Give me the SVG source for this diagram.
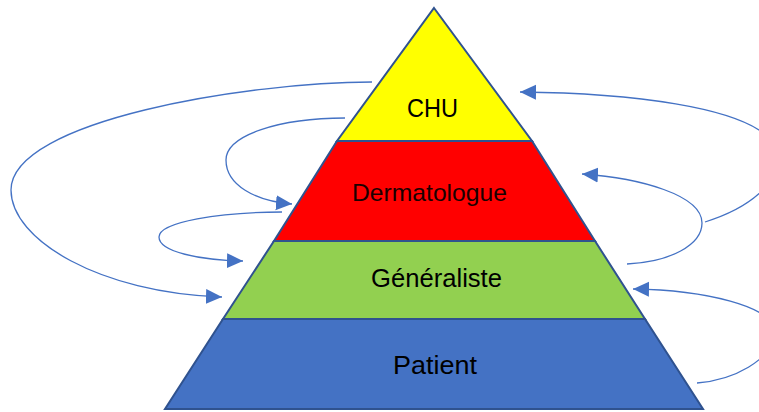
<svg xmlns="http://www.w3.org/2000/svg" width="759" height="412" viewBox="0 0 759 412">
<style>
.tier{stroke:#2F528F;stroke-width:2;stroke-linejoin:miter}
.lbl{font-family:"Liberation Sans",Arial,sans-serif;font-size:25px;fill:#000;text-anchor:middle}
.conn{fill:none;stroke:#4472C4;stroke-width:1.3;marker-end:url(#arr)}
</style>
<defs>
<marker id="arr" markerUnits="userSpaceOnUse" markerWidth="18" markerHeight="16" refX="16" refY="7.5" orient="auto">
<path d="M0,0 L16,7.5 L0,15 z" fill="#4472C4"/>
</marker>
</defs>
<rect width="759" height="412" fill="#fff"/>
<g id="patient">
<polygon class="tier" fill="#4472C4" points="223,319 645,319 703,409 165,409"/>
<text class="lbl" x="435" y="374" textLength="84" lengthAdjust="spacingAndGlyphs">Patient</text>
</g>
<g id="generaliste">
<polygon class="tier" fill="#92D050" points="274,241 595,241 645,319 223,319"/>
<text class="lbl" x="436.5" y="287" textLength="131" lengthAdjust="spacingAndGlyphs">Généraliste</text>
</g>
<g id="dermatologue">
<polygon class="tier" fill="#FF0000" points="337,141 532,141 595,241 274,241"/>
<text class="lbl" x="429.5" y="201" textLength="155" lengthAdjust="spacingAndGlyphs" style="font-size:24px;fill:#1a0000">Dermatologue</text>
</g>
<g id="chu">
<polygon class="tier" fill="#FFFF00" points="434,8 532,141 337,141"/>
<text class="lbl" x="432.5" y="117" textLength="51" lengthAdjust="spacingAndGlyphs">CHU</text>
</g>
<g id="connectors">
<path class="conn" d="M372,82 C250,82 11,120 11,190 C11,240 100,293 222,297"/>
<path class="conn" d="M345,118 C280,118 226,135 226,160 C226,185 255,201 292,204"/>
<path class="conn" d="M282,212 C220,212 159,222 159,237 C159,252 200,260 243,261"/>
<path class="conn" d="M705,222 C760,205 790,170 775,145 C750,105 620,93 520,92"/>
<path class="conn" d="M627,264 C670,262 702,245 702,223 C702,195 640,178 582,174"/>
<path class="conn" d="M697,383 C735,380 770,360 775,335 C778,305 700,290 633,289"/>
</g>
</svg>
